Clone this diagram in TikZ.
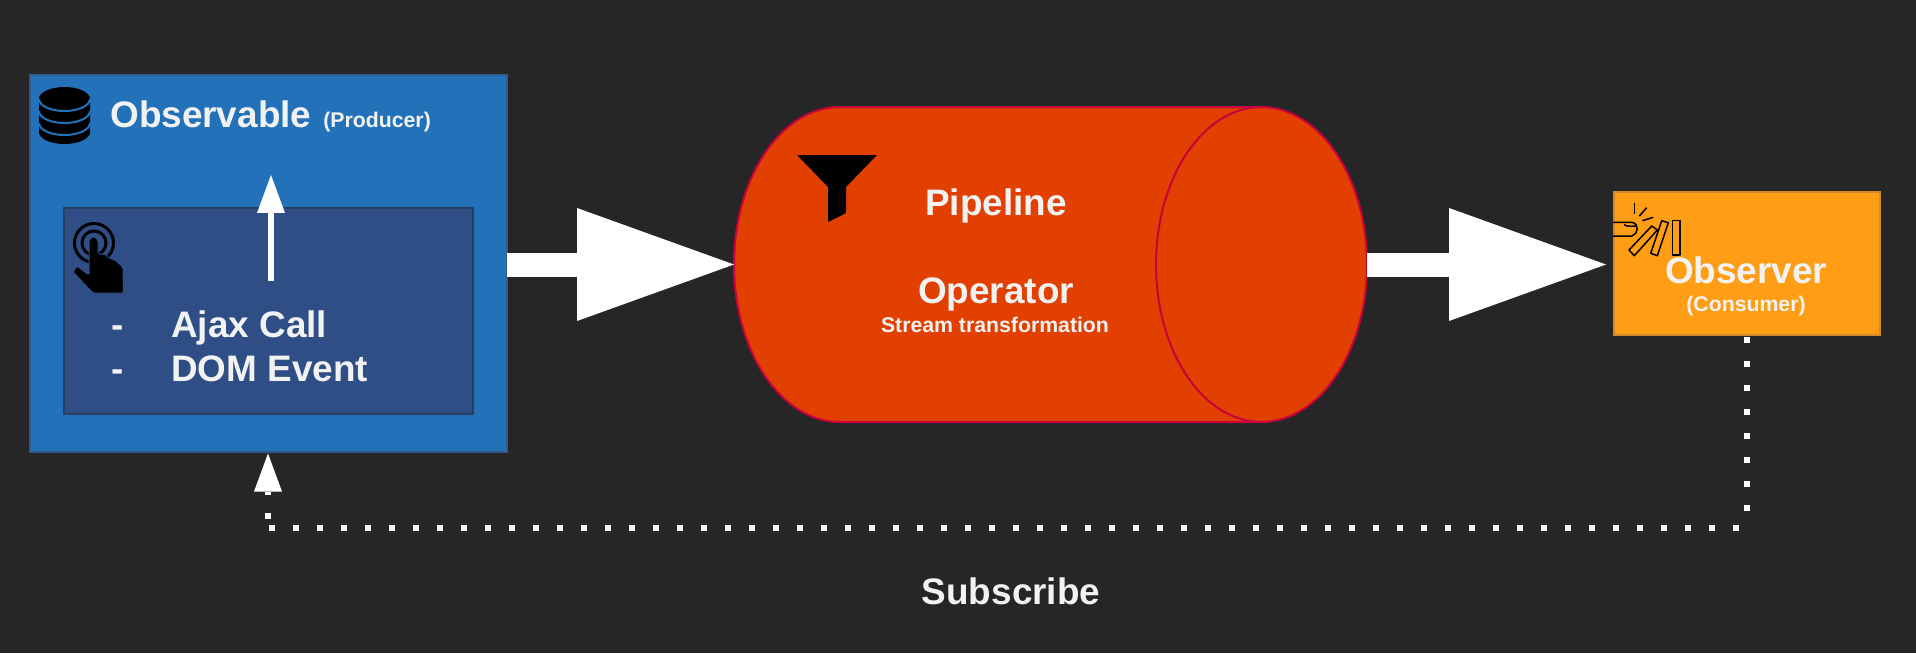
\documentclass[tikz,border=0pt]{standalone}
\usepackage{fontspec}
\setmainfont{Liberation Sans}
\usetikzlibrary{arrows.meta}
\definecolor{pagebg}{HTML}{262626}
\definecolor{blueprod}{HTML}{2372B9}
\definecolor{blueline}{HTML}{2F5C8F}
\definecolor{bluesource}{HTML}{2E4E85}
\definecolor{bluesourceline}{HTML}{263F63}
\definecolor{orangepipe}{HTML}{E24000}
\definecolor{redline}{HTML}{C8003C}
\definecolor{orangeobs}{HTML}{FF9E15}
\definecolor{orangeline}{HTML}{D08A2A}
\definecolor{labelwhite}{HTML}{F2F2F2}
\newlength{\pxu}
\setlength{\pxu}{0.02cm}
\begin{document}
\begin{tikzpicture}[x=0.02cm,y=-0.02cm]
            % Base settings
            \tikzset{
              boxnode/.style={draw, line width=2\pxu, inner sep=0pt, outer sep=0pt},
              bigtext/.style={text=labelwhite, inner sep=0pt, font=\bfseries\fontsize{21}{24}\selectfont},
              smalltext/.style={text=labelwhite, inner sep=0pt, font=\bfseries\fontsize{12.1}{14}\selectfont},
              bigarrow/.style={draw=white, line width=24\pxu, -{Triangle[length=3.14cm, width=2.26cm, line width=0pt, fill=white]}},
              thinarrow/.style={draw=white, line width=6\pxu, -{Triangle[length=0.76cm, width=0.56cm, line width=0pt, fill=white]}},
              dotline/.style={draw=white, line width=6\pxu, dash pattern=on 6\pxu off 18\pxu},
              iconline/.style={draw=black, line width=1.5\pxu, line join=round}
            }

            \useasboundingbox (0,0) rectangle (1916,653);
            \fill[pagebg] (0,0) rectangle (1916,653);

            % --- Boxes ---
            \node[boxnode, draw=blueline, fill=blueprod, minimum width=477\pxu, minimum height=377\pxu] (observable) at (268,263) {};
            \node[boxnode, draw=bluesourceline, fill=bluesource, minimum width=409\pxu, minimum height=206\pxu] (source) at (268,310.5) {};
            \node[boxnode, draw=orangeline, fill=orangeobs, minimum width=266\pxu, minimum height=143\pxu] (observer) at (1747,263.5) {};

            % --- Cylinder ---
            \node[inner sep=0pt, outer sep=0pt, minimum width=633\pxu, minimum height=315\pxu] (pipeline) at (1050.5,264.5) {};
            \draw[fill=orangepipe, draw=redline, line width=2\pxu]
              (1261.5,107) -- (839.5,107)
              arc[start angle=270, end angle=90, x radius=105.5, y radius=157.5]
              -- (1261.5,422)
              arc[start angle=90, end angle=-90, x radius=105.5, y radius=157.5] -- cycle;
            \draw[draw=redline, line width=2\pxu]
              (1261.5,107) arc[start angle=270, end angle=90, x radius=105.5, y radius=157.5];

            % --- Connectors ---
            \coordinate (emitstart) at (271,281);
            \coordinate (emitend) at (271,175);
            \coordinate (observertip) at (1606,264.5);
            \coordinate (turnright) at (1747,528);
            \coordinate (turnleft) at (268,528);

            \draw[thinarrow] (emitstart) -- (emitend);
            \draw[bigarrow] (observable.east |- pipeline.west) -- (pipeline.west);
            \draw[bigarrow] (pipeline.east) -- (observertip);

            % Dotted return path, one draw per leg so the dots sit right at the corners
            \draw[dotline, dash phase=22\pxu] (observer.south) -- (turnright);
            \draw[dotline, dash phase=16\pxu] (turnright) -- (turnleft);
            \draw[dotline, dash phase=15\pxu, shorten >=2\pxu, -{Triangle[length=0.76cm, width=0.56cm, line width=0pt, fill=white]}] (turnleft) -- (observable.south);

            % --- Database icon ---
            \fill[black] (39,99) arc[start angle=180, end angle=360, x radius=25.5, y radius=12]
              -- (90,132) arc[start angle=0, end angle=180, x radius=25.5, y radius=12] -- cycle;
            \foreach \ypos in {99,111,123} {
              \draw[blueprod, line width=2\pxu]
                (39,\ypos) arc[start angle=180, end angle=0, x radius=25.5, y radius=12];
            }

            % --- Pointer icon ---
            \draw[black, line width=3\pxu] (94,243) circle[radius=19.5];
            \draw[black, line width=3\pxu] (94,243) circle[radius=12];
            \draw[fill=black, draw=bluesource, line width=1\pxu, rounded corners=1.5\pxu]
              (89,275) -- (89,240) -- (93.5,236) -- (98,240) -- (98,254) -- (105,254) -- (109,258)
              -- (115,260) -- (123,267) -- (123.5,293) -- (93,293) -- (73,272) -- (77,266) -- cycle;

            % --- Funnel icon ---
            \fill[black, rounded corners=0.8\pxu]
              (797,155) -- (877,155) -- (846,187) -- (846,213) -- (828,222) -- (828,187) -- cycle;

            % --- Domino icon ---
            \draw[iconline] (1613,222.3) -- (1632,222.3) .. controls (1640,224) and (1638,234) .. (1632,236) -- (1613,236);
            \draw[iconline] (1624,224.5) .. controls (1626,226.5) and (1630,226.5) .. (1636,226);
            \draw[iconline] (1651.7,226) -- (1657.3,230) -- (1634.3,255.7) -- (1629,250) -- cycle;
            \draw[iconline] (1661.7,220.7) -- (1668.3,222.7) -- (1657.3,255.7) -- (1650.7,253.3) -- cycle;
            \draw[iconline] (1672.7,220.7) rectangle (1680,255);
            \draw[iconline] (1634.3,202.7) -- (1634.3,214);
            \draw[iconline] (1646.7,207.7) -- (1639.3,216);
            \draw[iconline] (1653.3,217.3) -- (1642.3,220.7);

            % --- Labels ---
            \node[bigtext, anchor=base west] (observablelabel) at (110,127) {Observable};
            \node[smalltext, anchor=base west] (producerlabel) at (323,127) {(Producer)};
            \node[bigtext, anchor=base west] (dashone) at (111,337) {-};
            \node[bigtext, anchor=base west] (ajaxlabel) at (171,337) {Ajax Call};
            \node[bigtext, anchor=base west] (dashtwo) at (111,381) {-};
            \node[bigtext, anchor=base west] (domlabel) at (171,381) {DOM Event};
            \node[bigtext, anchor=base] (pipelinelabel) at (996,215) {Pipeline};
            \node[bigtext, anchor=base] (operatorlabel) at (996,303) {Operator};
            \node[smalltext, anchor=base] (streamlabel) at (995,332) {Stream transformation};
            \node[bigtext, anchor=base] (observerlabel) at (1746,283) {Observer};
            \node[smalltext, anchor=base] (consumerlabel) at (1746,311) {(Consumer)};
            \node[bigtext, anchor=base] (subscribelabel) at (1011,604) {Subscribe};

            \end{tikzpicture}
\end{document}
